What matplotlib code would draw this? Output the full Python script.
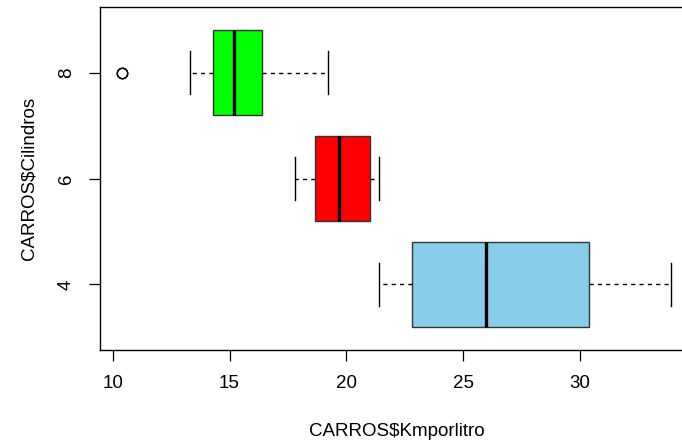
import matplotlib
matplotlib.use("Agg")
import matplotlib.pyplot as plt

plt.rcParams["font.family"] = ["Liberation Sans", "DejaVu Sans"]

# five-number summaries (km per litre by cylinders)
cilindros = ["4", "6", "8"]
q1 = [22.8, 18.65, 14.3]
mediana = [26.0, 19.7, 15.2]
q3 = [30.4, 21.0, 16.4]
bigode_inf = [21.4, 17.8, 13.3]
bigode_sup = [33.9, 21.4, 19.2]
outliers = [[], [], [10.4, 10.4]]
cores = ["#87CEEB", "#FF0000", "#00FF00"]

stats = []
for i, lab in enumerate(cilindros):
    stats.append(dict(label=lab, q1=q1[i], med=mediana[i], q3=q3[i],
                      whislo=bigode_inf[i], whishi=bigode_sup[i],
                      fliers=outliers[i]))

fig = plt.figure(figsize=(6.82, 4.42), dpi=100)
# R-style plot region; right edge runs past the image like in the original
ax = fig.add_axes([100 / 682, 1 - 350 / 442, 593 / 682, 343 / 442])

bp = ax.bxp(stats, positions=[1, 2, 3], vert=False, widths=0.8,
            patch_artist=True, showcaps=True,
            boxprops=dict(linewidth=1.0, edgecolor="#333333"),
            medianprops=dict(color="black", linewidth=2.4, solid_capstyle="butt"),
            whiskerprops=dict(color="black", linewidth=1.0, linestyle=(0, (3, 3))),
            capprops=dict(color="black", linewidth=1.0),
            flierprops=dict(marker="o", markerfacecolor="none",
                            markeredgecolor="black", markersize=7.5, markeredgewidth=1.0),
            capwidths=0.4)
for patch, c in zip(bp["boxes"], cores):
    patch.set_facecolor(c)

ax.set_xlim(9.456, 34.84)
ax.set_ylim(0.38, 3.62)
ax.set_xticks([10, 15, 20, 25, 30])
ax.set_yticks([1, 2, 3])
ax.set_yticklabels(cilindros, rotation=90, va="center")
ax.tick_params(axis="both", length=8, width=0.9, labelsize=13.5, pad=10)
for s in ax.spines.values():
    s.set_linewidth(1.0)

ax.set_xlabel("CARROS$Kmporlitro", fontsize=13.5, labelpad=22)
ax.set_ylabel("CARROS$Cilindros", fontsize=13.5, labelpad=15)

fig.savefig("out.png", dpi=100)
